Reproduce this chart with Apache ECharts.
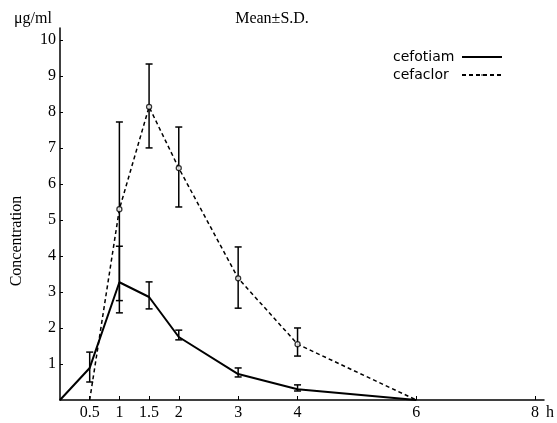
<!DOCTYPE html>
<html>
<head>
<meta charset="utf-8">
<script src="https://cdn.jsdelivr.net/npm/echarts@6/dist/echarts.min.js"></script>
<style>
  html, body { margin: 0; padding: 0; background: #fff; }
  #chart { width: 557px; height: 423px; }
</style>
</head>
<body>
<div id="chart"></div>
<script>
'use strict';
// hours after dosing
const hours = [0, 0.5, 1, 1.5, 2, 3, 4, 6];
const xTicks = [0.5, 1, 1.5, 2, 3, 4, 6, 8];
const yTicks = [1, 2, 3, 4, 5, 6, 7, 8, 9, 10];

// cefotiam, mean and S.D. range (null = no bar)
const cefotiamMean = [0, 0.89, 3.27, 2.86, 1.75, 0.72, 0.3, 0];
const cefotiamLow = [null, 0.5, 2.42, 2.53, 1.67, 0.64, 0.25, null];
const cefotiamHigh = [null, 1.33, 4.27, 3.28, 1.94, 0.89, 0.42, null];

// cefaclor
const cefaclorHours = [0.5, 1, 1.5, 2, 3, 4, 6];
const cefaclorMean = [0, 5.3, 8.14, 6.44, 3.38, 1.55, 0];
const cefaclorLow = [null, 2.76, 7.0, 5.36, 2.55, 1.22, null];
const cefaclorHigh = [null, 7.72, 9.33, 7.58, 4.25, 2.0, null];

const serif = '"Liberation Serif", "DejaVu Serif", serif';

function pairs(xs, ys) {
  return xs.map((x, i) => [x, ys[i]]);
}
function bars(xs, lo, hi) {
  let out = [];
  xs.forEach((x, i) => {
    if (lo[i] != null) out.push([x, lo[i], hi[i]]);
  });
  return out;
}
function points(xs, ys, lo) {
  let out = [];
  xs.forEach((x, i) => {
    if (lo[i] != null) out.push([x, ys[i]]);
  });
  return out;
}

// S.D. bar with caps
function renderErr(params, api) {
  const x = api.value(0);
  const lo = api.coord([x, api.value(1)]);
  const hi = api.coord([x, api.value(2)]);
  const w = 3.5;
  const style = { stroke: '#000', lineWidth: 1.5 };
  return {
    type: 'group',
    children: [
      { type: 'line', shape: { x1: lo[0], y1: lo[1], x2: hi[0], y2: hi[1] }, style: style },
      { type: 'line', shape: { x1: hi[0] - w, y1: hi[1], x2: hi[0] + w, y2: hi[1] }, style: style },
      { type: 'line', shape: { x1: lo[0] - w, y1: lo[1], x2: lo[0] + w, y2: lo[1] }, style: style }
    ]
  };
}

let chart = echarts.init(document.getElementById('chart'));
chart.setOption({
  backgroundColor: '#fff',
  animation: false,
  title: [
    {
      text: 'Mean±S.D.',
      left: 267, top: 6, textAlign: 'center',
      textStyle: { fontFamily: serif, fontSize: 16, fontWeight: 'normal', color: '#000' }
    },
    {
      text: 'μg/ml',
      left: 9, top: 6,
      textStyle: { fontFamily: serif, fontSize: 16, fontWeight: 'normal', color: '#000' }
    }
  ],
  legend: {
    orient: 'vertical',
    left: 388, top: 45,
    align: 'right',
    itemWidth: 40, itemHeight: 2,
    itemGap: 4,
    data: ['cefotiam', 'cefaclor'],
    formatter: '{a|{name}}',
    textStyle: {
      fontFamily: '"DejaVu Sans", sans-serif', fontSize: 14, color: '#000',
      rich: { a: { width: 64, align: 'left', fontFamily: '"DejaVu Sans", sans-serif', fontSize: 14, color: '#000' } }
    }
  },
  graphic: [
    {
      type: 'text',
      x: 17, y: 241, rotation: Math.PI / 2,
      style: {
        text: 'Concentration', fill: '#000',
        font: '16px "Liberation Serif", serif',
        textAlign: 'center', textVerticalAlign: 'middle'
      }
    }
  ],
  grid: { left: 60, right: 10, top: 28, bottom: 23 },
  xAxis: {
    type: 'value', min: 0, max: 8.15,
    name: 'h', nameLocation: 'end', nameGap: 2,
    nameTextStyle: { fontFamily: serif, fontSize: 16, color: '#000', verticalAlign: 'top', padding: [5, 0, 0, 0] },
    splitLine: { show: false },
    axisLine: { lineStyle: { color: '#000', width: 1.5 } },
    axisTick: { inside: true, length: 4, customValues: xTicks, lineStyle: { color: '#000', width: 1 } },
    axisLabel: { customValues: xTicks, margin: 5, fontFamily: serif, fontSize: 16, color: '#000' }
  },
  yAxis: {
    type: 'value', min: 0, max: 10.33,
    splitLine: { show: false },
    axisLine: { show: true, lineStyle: { color: '#000', width: 1.5 } },
    axisTick: { show: true, inside: true, length: 3, customValues: yTicks, lineStyle: { color: '#000', width: 1 } },
    axisLabel: { customValues: yTicks, margin: 4, fontFamily: serif, fontSize: 16, color: '#000' }
  },
  series: [
    {
      name: 'cefotiam', type: 'line',
      data: pairs(hours, cefotiamMean),
      symbol: 'none', color: '#000',
      lineStyle: { color: '#000', width: 2 },
      z: 3
    },
    {
      name: 'cefaclor', type: 'line',
      data: pairs(cefaclorHours, cefaclorMean),
      symbol: 'none', color: '#000',
      lineStyle: { color: '#000', width: 1.5, type: [4, 3] },
      z: 3
    },
    {
      name: 'cefotiam S.D.', type: 'custom',
      renderItem: renderErr,
      data: bars(hours, cefotiamLow, cefotiamHigh),
      z: 4
    },
    {
      name: 'cefaclor S.D.', type: 'custom',
      renderItem: renderErr,
      data: bars(cefaclorHours, cefaclorLow, cefaclorHigh),
      z: 4
    },
    {
      name: 'cefaclor points', type: 'scatter',
      data: points(cefaclorHours, cefaclorMean, cefaclorLow),
      symbol: 'circle', symbolSize: 5,
      itemStyle: { color: '#fff', borderColor: '#000', borderWidth: 1.3 },
      z: 5
    }
  ]
});
</script>
</body>
</html>
